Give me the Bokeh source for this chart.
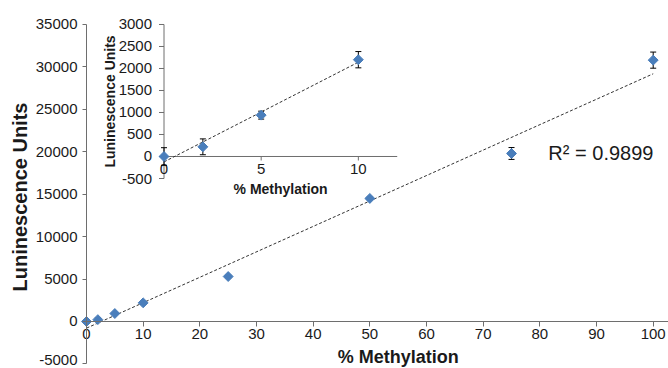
import numpy as np
from bokeh.plotting import figure
from bokeh.models import Range1d, FixedTicker, Label
from bokeh.core.properties import value
from bokeh.embed import file_html
from bokeh.resources import INLINE

# ---------------- data ----------------
pct = [0, 2, 5, 10, 25, 50, 75, 100]
lum = [0, 220, 940, 2200, 5300, 14500, 19800, 30800]
lum_err = [200, 180, 90, 185, 150, 150, 700, 950]

inset_pct = [0, 2, 5, 10]
inset_lum = [0, 220, 940, 2200]
inset_err = [200, 180, 90, 185]

main_x_ticks = [0, 10, 20, 30, 40, 50, 60, 70, 80, 90, 100]
main_y_ticks = [-5000, 0, 5000, 10000, 15000, 20000, 25000, 30000, 35000]
inset_x_ticks = [0, 5, 10]
inset_y_ticks = [-500, 0, 500, 1000, 1500, 2000, 2500, 3000]
inset_x_lim = (0, 12)
inset_y_lim = (-500, 3000)

r2_text = "R² = 0.9899"
x_title = "% Methylation"
y_title = "Luninescence Units"

# ---------------- style ----------------
FONT = "Liberation Sans"
BLUE = "#4a7ebb"
AXIS = "#6e6e6e"
TEXT = "#1a1a1a"

p = figure(width=668, height=368, output_backend="svg", toolbar_location=None,
           x_range=Range1d(-15.176, 102.70), y_range=Range1d(-5539, 37827),
           min_border_left=0, min_border_right=0, min_border_top=0, min_border_bottom=0)
p.outline_line_color = None
p.grid.visible = False
p.background_fill_color = "white"
p.border_fill_color = "white"

ya = p.yaxis[0]
ya.fixed_location = 0
ya.ticker = FixedTicker(ticks=main_y_ticks)
ya.bounds = (main_y_ticks[0], main_y_ticks[-1])
ya.major_label_overrides = {main_y_ticks[0]: ""}
ya.major_tick_out = 4
ya.major_tick_in = 0
ya.minor_tick_out = 0
ya.minor_tick_in = 0
ya.axis_line_color = AXIS
ya.major_tick_line_color = AXIS
ya.major_label_text_font = FONT
ya.major_label_text_font_size = "15px"
ya.major_label_text_color = TEXT
ya.major_label_standoff = 5

xa = p.xaxis[0]
xa.fixed_location = 0
xa.ticker = FixedTicker(ticks=main_x_ticks)
xa.bounds = (0, 102.70)
xa.major_tick_out = 5
xa.major_tick_in = 0
xa.minor_tick_out = 0
xa.minor_tick_in = 0
xa.axis_line_color = AXIS
xa.major_tick_line_color = AXIS
xa.major_label_text_font = FONT
xa.major_label_text_font_size = "15px"
xa.major_label_text_color = TEXT
xa.major_label_standoff = 3

# lowest y tick label (plain hyphen text, nudged up to stay inside the window)
p.add_layout(Label(x=0, y=main_y_ticks[0], x_offset=-9, y_offset=4, text=str(main_y_ticks[0]),
                   text_align="right", text_baseline="alphabetic", text_font=FONT,
                   text_font_size="15px", text_color=TEXT))

# ---------------- main series ----------------
lo = [v - e for v, e in zip(lum, lum_err)]
hi = [v + e for v, e in zip(lum, lum_err)]
coef = np.polyfit(pct, lum, 1)
tx = [min(pct), max(pct)]
p.line(tx, list(np.polyval(coef, tx)), line_color="#333333", line_width=1, line_dash="3 2")
p.segment(x0=pct, y0=lo, x1=pct, y1=hi, line_color="black", line_width=1)
p.scatter(x=pct + pct, y=lo + hi, marker="dash", size=6, line_color="black", line_width=1)
p.scatter(x=pct, y=lum, marker="square", angle=np.pi / 4, size=7,
          fill_color=BLUE, line_color=BLUE)

p.add_layout(Label(x=81.5, y=19800, text=r2_text, text_align="left", text_baseline="middle",
                   text_font=FONT, text_font_size="20px", text_color=TEXT))
p.add_layout(Label(x=55, y=p.y_range.start, y_offset=12, text=x_title, text_align="center",
                   text_baseline="alphabetic", text_font=FONT, text_font_size="18px",
                   text_font_style="bold", text_color=TEXT))
p.add_layout(Label(x=-11.65, y=14670, text=y_title, angle=np.pi / 2, text_align="center",
                   text_baseline="middle", text_font=FONT, text_font_size="20px",
                   text_font_style="bold", text_color=TEXT))

# ---------------- inset ----------------
sub = p.subplot(x_source=Range1d(*inset_x_lim), y_source=Range1d(*inset_y_lim),
                x_target=Range1d(13.676, 54.83), y_target=Range1d(16851, 35000))

sub.segment(x0=[inset_x_lim[0], inset_x_lim[0]], y0=[inset_y_lim[0], 0],
            x1=[inset_x_lim[0], inset_x_lim[1]], y1=[inset_y_lim[1], 0],
            line_color=AXIS, line_width=1)
sub.ray(x=[0] * len(inset_y_ticks), y=inset_y_ticks, length=5, length_units="screen",
        angle=np.pi, line_color=AXIS, line_width=1)
sub.ray(x=inset_x_ticks, y=[0] * len(inset_x_ticks), length=4, length_units="screen",
        angle=-np.pi / 2, line_color=AXIS, line_width=1)
sub.text(x=[0] * len(inset_y_ticks), y=inset_y_ticks, text=[str(t) for t in inset_y_ticks],
         x_offset=-12, text_align="right", text_baseline="middle", text_font=value(FONT),
         text_font_size="15px", text_color=TEXT)
sub.text(x=inset_x_ticks, y=[0] * len(inset_x_ticks), text=[str(t) for t in inset_x_ticks],
         y_offset=8, text_align="center", text_baseline="top", text_font=value(FONT),
         text_font_size="15px", text_color=TEXT)
sub.text(x=[(inset_x_lim[0] + inset_x_lim[1]) / 2], y=[0], text=[x_title], y_offset=33,
         text_align="center", text_baseline="middle", text_font=value(FONT),
         text_font_size="14px", text_font_style="bold", text_color=TEXT)
sub.text(x=[0], y=[(inset_y_lim[0] + inset_y_lim[1]) / 2], text=[y_title], x_offset=-54,
         angle=np.pi / 2, text_align="center", text_baseline="middle", text_font=value(FONT),
         text_font_size="14px", text_font_style="bold", text_color=TEXT)

ilo = [v - e for v, e in zip(inset_lum, inset_err)]
ihi = [v + e for v, e in zip(inset_lum, inset_err)]
icoef = np.polyfit(inset_pct, inset_lum, 1)
itx = [min(inset_pct), max(inset_pct)]
sub.line(itx, list(np.polyval(icoef, itx)), line_color="#333333", line_width=1, line_dash="3 2")
sub.segment(x0=inset_pct, y0=ilo, x1=inset_pct, y1=ihi, line_color="black", line_width=1)
sub.scatter(x=inset_pct + inset_pct, y=ilo + ihi, marker="dash", size=6, line_color="black")
sub.scatter(x=inset_pct, y=inset_lum, marker="square", angle=np.pi / 4, size=7,
            fill_color=BLUE, line_color=BLUE)

open("out.html", "w").write(file_html(p, INLINE))
